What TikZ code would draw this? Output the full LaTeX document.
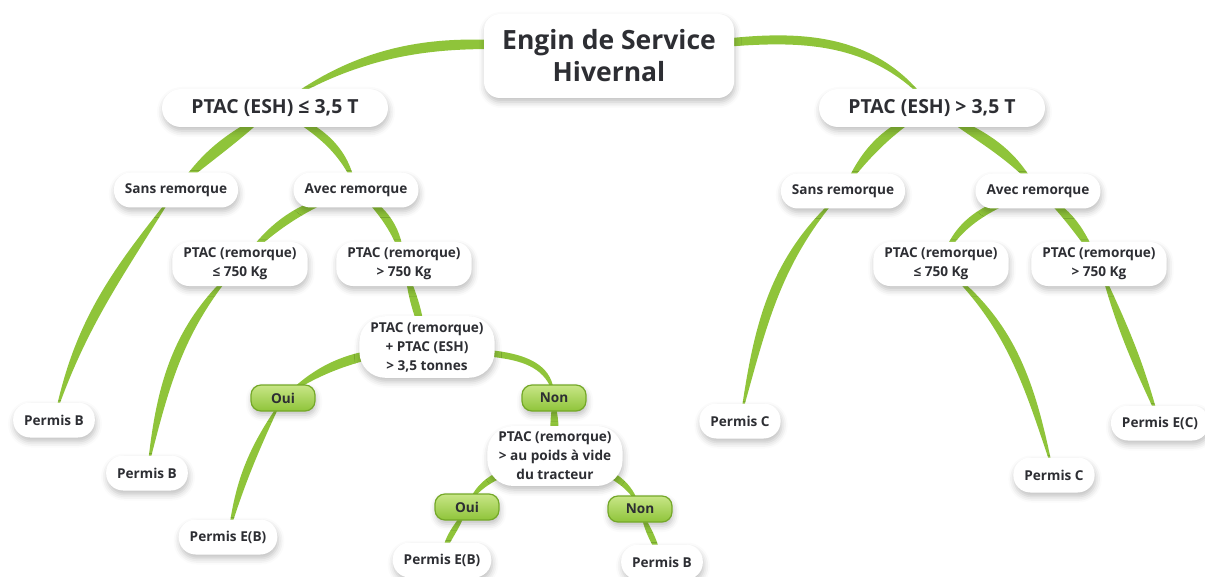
\documentclass[tikz,border=0pt]{standalone}
\usepackage{fontspec}
\setmainfont{Open Sans}
\usetikzlibrary{backgrounds,shadows.blur}
\definecolor{vertbranche}{RGB}{143,196,58}
\definecolor{vertclair}{RGB}{200,230,135}
\definecolor{vertfonce}{RGB}{116,168,40}
\definecolor{gristexte}{RGB}{45,46,51}
\tikzset{
  ombre/.style={blur shadow={shadow xshift=1, shadow yshift=-4, shadow blur radius=6, shadow opacity=25}},
  bulle/.style={ombre, fill=white, text=gristexte, font=\bfseries\fontsize{13.6}{19}\selectfont,
    align=center, rounded corners=17, minimum height=35, inner xsep=11, inner ysep=6},
  grossebulle/.style={bulle, rounded corners=26},
  theme/.style={bulle, font=\bfseries\fontsize{19.4}{24}\selectfont, rounded corners=19,
    minimum width=226, minimum height=38},
  centre/.style={bulle, font=\bfseries\fontsize{26.5}{32}\selectfont, rounded corners=16,
    minimum width=250, minimum height=84},
  reponse/.style={bulle, top color=vertclair, bottom color=vertbranche, draw=vertfonce,
    line width=1.2, rounded corners=10, minimum width=64, minimum height=26, inner ysep=2},
  branche/.style={fill=vertbranche}
}
\begin{document}
\begin{tikzpicture}[x=1pt, y=1pt]
  \useasboundingbox (0,0) rectangle (1205,-577);
  % centre
  \node[centre] (engin) at (609,-56) {Engin de Service\\Hivernal};
  % cote gauche
  \node[theme] (esha) at (275,-108) {PTAC (ESH) ≤ 3,5 T};
  \node[bulle] (sansa) at (176,-190) {Sans remorque};
  \node[bulle] (aveca) at (356,-190) {Avec remorque};
  \node[bulle] (rema1) at (240,-264) {PTAC (remorque)\\≤ 750 Kg};
  \node[bulle] (rema2) at (404,-264) {PTAC (remorque)\\> 750 Kg};
  \node[grossebulle] (somme) at (427,-347) {PTAC (remorque)\\+ PTAC (ESH)\\> 3,5 tonnes};
  \node[reponse] (ouia) at (283,-398) {Oui};
  \node[reponse] (nona) at (554,-398) {Non};
  \node[grossebulle] (poids) at (555,-456) {PTAC (remorque)\\> au poids à vide\\du tracteur};
  \node[reponse] (ouib) at (467,-507) {Oui};
  \node[reponse] (nonb) at (640,-509) {Non};
  \node[bulle] (pba) at (54,-420) {Permis B};
  \node[bulle] (pbb) at (147,-473) {Permis B};
  \node[bulle] (peba) at (228,-537) {Permis E(B)};
  \node[bulle] (pebb) at (442,-560) {Permis E(B)};
  \node[bulle] (pbc) at (662,-562) {Permis B};
  % cote droit
  \node[theme] (eshb) at (932,-108) {PTAC (ESH) > 3,5 T};
  \node[bulle] (sansb) at (843,-191) {Sans remorque};
  \node[bulle] (avecb) at (1038,-191) {Avec remorque};
  \node[bulle] (remb1) at (941,-264) {PTAC (remorque)\\≤ 750 Kg};
  \node[bulle] (remb2) at (1099,-264) {PTAC (remorque)\\> 750 Kg};
  \node[bulle] (pca) at (740,-421) {Permis C};
  \node[bulle] (pcb) at (1054,-475) {Permis C};
  \node[bulle] (pec) at (1160,-423) {Permis E(C)};
  % branches
  \begin{scope}[on background layer]
    \foreach \de/\vers/\sortie/\entree/\ecart in {
        engin/esha/172/35/3.2, esha/sansa/215/48/8.4, sansa/pba/235/75/3.8,
        esha/aveca/-25/105/7.7, aveca/rema1/195/50/6.4, rema1/pbb/225/80/4.3,
        aveca/rema2/-35/100/10, rema2/somme/-75/105/9.1,
        somme/ouia/185/40/6.4, ouia/peba/240/78/5.2,
        somme/nona/-10/95/7.1, nona/poids/-90/90/13.6,
        poids/ouib/200/65/7.7, ouib/pebb/245/80/10,
        poids/nonb/-15/110/7.8, nonb/pbc/-70/110/10.3,
        engin/eshb/5/128/3.3, eshb/sansb/205/60/8, sansb/pca/225/78/3.9,
        eshb/avecb/-30/125/8, avecb/remb1/195/70/7.3, remb1/pcb/-40/105/3.7,
        avecb/remb2/-35/120/9.3, remb2/pec/-70/110/5.1}{
      \pgfmathsetmacro\sa{\sortie+\ecart}
      \pgfmathsetmacro\sb{\sortie-\ecart}
      \pgfmathsetmacro\ea{\entree-\ecart}
      \pgfmathsetmacro\eb{\entree+\ecart}
      \fill[branche] (\de.center) to[out=\sa,in=\ea] (\vers.center)
        to[out=\eb,in=\sb] (\de.center) -- cycle;
    }
  \end{scope}
\end{tikzpicture}
\end{document}
